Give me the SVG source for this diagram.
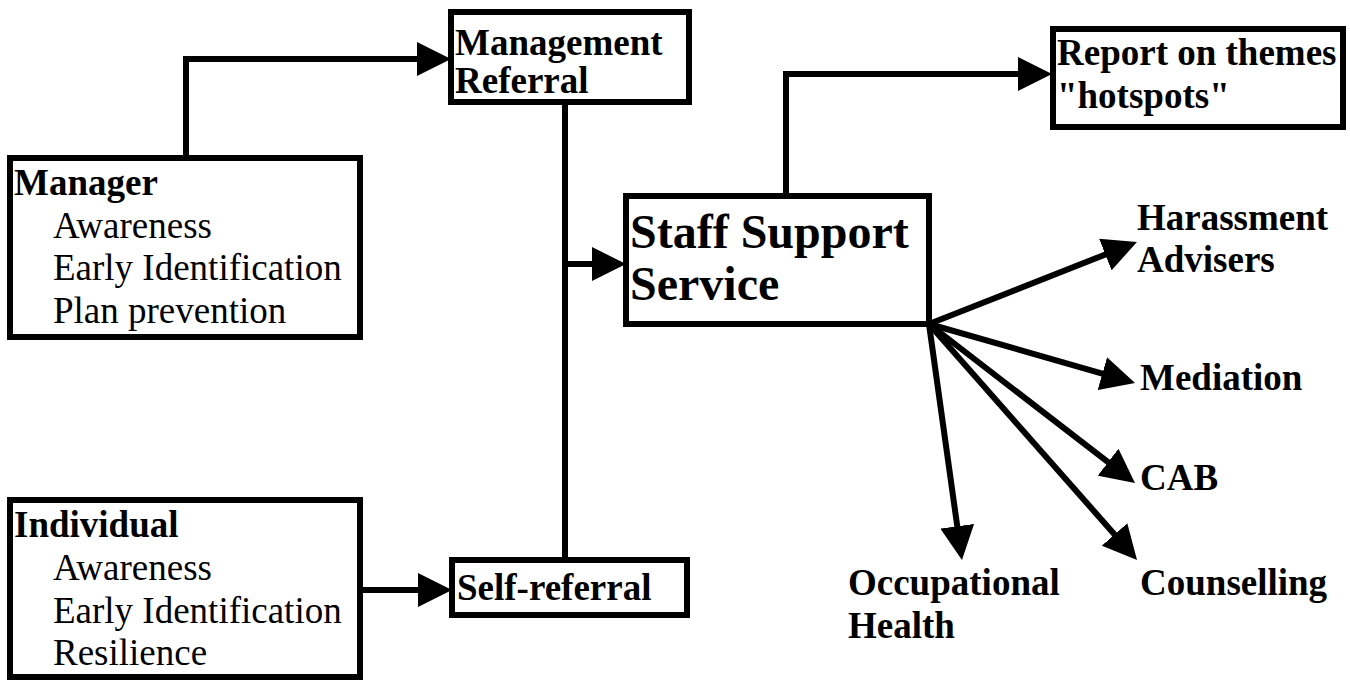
<svg xmlns="http://www.w3.org/2000/svg" width="1350" height="680" viewBox="0 0 1350 680">
  <style>
    .box { fill: #ffffff; stroke: #000000; stroke-width: 6; }
    .link { fill: none; stroke: #000000; stroke-width: 6; stroke-linejoin: miter; }
    .t { font-family: "Liberation Serif", "Times New Roman", serif; font-size: 37px; fill: #000000; }
    .b { font-weight: bold; }
    .big { font-family: "Liberation Serif", "Times New Roman", serif; font-size: 48px; font-weight: bold; fill: #000000; }
  </style>
  <defs>
    <marker id="arrow" markerUnits="userSpaceOnUse" markerWidth="34" markerHeight="34" refX="9" refY="17" orient="auto">
      <path d="M0,0 L34,17 L0,34 Z" fill="#000000"/>
    </marker>
  </defs>
  <rect width="1350" height="680" fill="#ffffff"/>

  <!-- connectors -->
  <g id="connectors">
    <path class="link" d="M186,158 L186,59 L426,59" marker-end="url(#arrow)"/>
    <path class="link" d="M565,102 L565,560"/>
    <path class="link" d="M565,264 L601,264" marker-end="url(#arrow)"/>
    <path class="link" d="M360,590 L427,590" marker-end="url(#arrow)"/>
    <path class="link" d="M786,196 L786,74 L1027,74" marker-end="url(#arrow)"/>
    <path class="link" d="M929,324 L1113.7,251.2" marker-end="url(#arrow)"/>
    <path class="link" d="M929,324 L1111,376.1" marker-end="url(#arrow)"/>
    <path class="link" d="M929,324 L1115.2,467.7" marker-end="url(#arrow)"/>
    <path class="link" d="M929,324 L1120.5,541.2" marker-end="url(#arrow)"/>
    <path class="link" d="M929,324 L958.5,535.2" marker-end="url(#arrow)"/>
  </g>

  <g id="manager">
    <rect class="box" x="10" y="158" width="350" height="179"/>
    <text class="t b" x="14" y="195">Manager</text>
    <text class="t" x="53" y="238">Awareness</text>
    <text class="t" x="53" y="280">Early Identification</text>
    <text class="t" x="53" y="323">Plan prevention</text>
  </g>

  <g id="individual">
    <rect class="box" x="10" y="500" width="350" height="177"/>
    <text class="t b" x="14" y="537">Individual</text>
    <text class="t" x="53" y="580">Awareness</text>
    <text class="t" x="53" y="623">Early Identification</text>
    <text class="t" x="53" y="665">Resilience</text>
  </g>

  <g id="management-referral">
    <rect class="box" x="451" y="12" width="238" height="90"/>
    <text class="t b" x="455" y="55">Management</text>
    <text class="t b" x="455" y="93">Referral</text>
  </g>

  <g id="self-referral">
    <rect class="box" x="452" y="560" width="235" height="55"/>
    <text class="t b" x="457" y="600">Self-referral</text>
  </g>

  <g id="staff-support">
    <rect class="box" x="626" y="196" width="303" height="128"/>
    <text class="big" x="630" y="248">Staff Support</text>
    <text class="big" x="630" y="300">Service</text>
  </g>

  <g id="report">
    <rect class="box" x="1053" y="29" width="290" height="98"/>
    <text class="t b" x="1057" y="65">Report on themes</text>
    <text class="t b" x="1057" y="108">"hotspots"</text>
  </g>

  <g id="harassment">
    <text class="t b" x="1137" y="230">Harassment</text>
    <text class="t b" x="1137" y="272">Advisers</text>
  </g>
  <g id="mediation">
    <text class="t b" x="1140" y="390">Mediation</text>
  </g>
  <g id="cab">
    <text class="t b" x="1140" y="490">CAB</text>
  </g>
  <g id="counselling">
    <text class="t b" x="1140" y="595">Counselling</text>
  </g>
  <g id="occupational-health">
    <text class="t b" x="848" y="595">Occupational</text>
    <text class="t b" x="848" y="638">Health</text>
  </g>
</svg>
